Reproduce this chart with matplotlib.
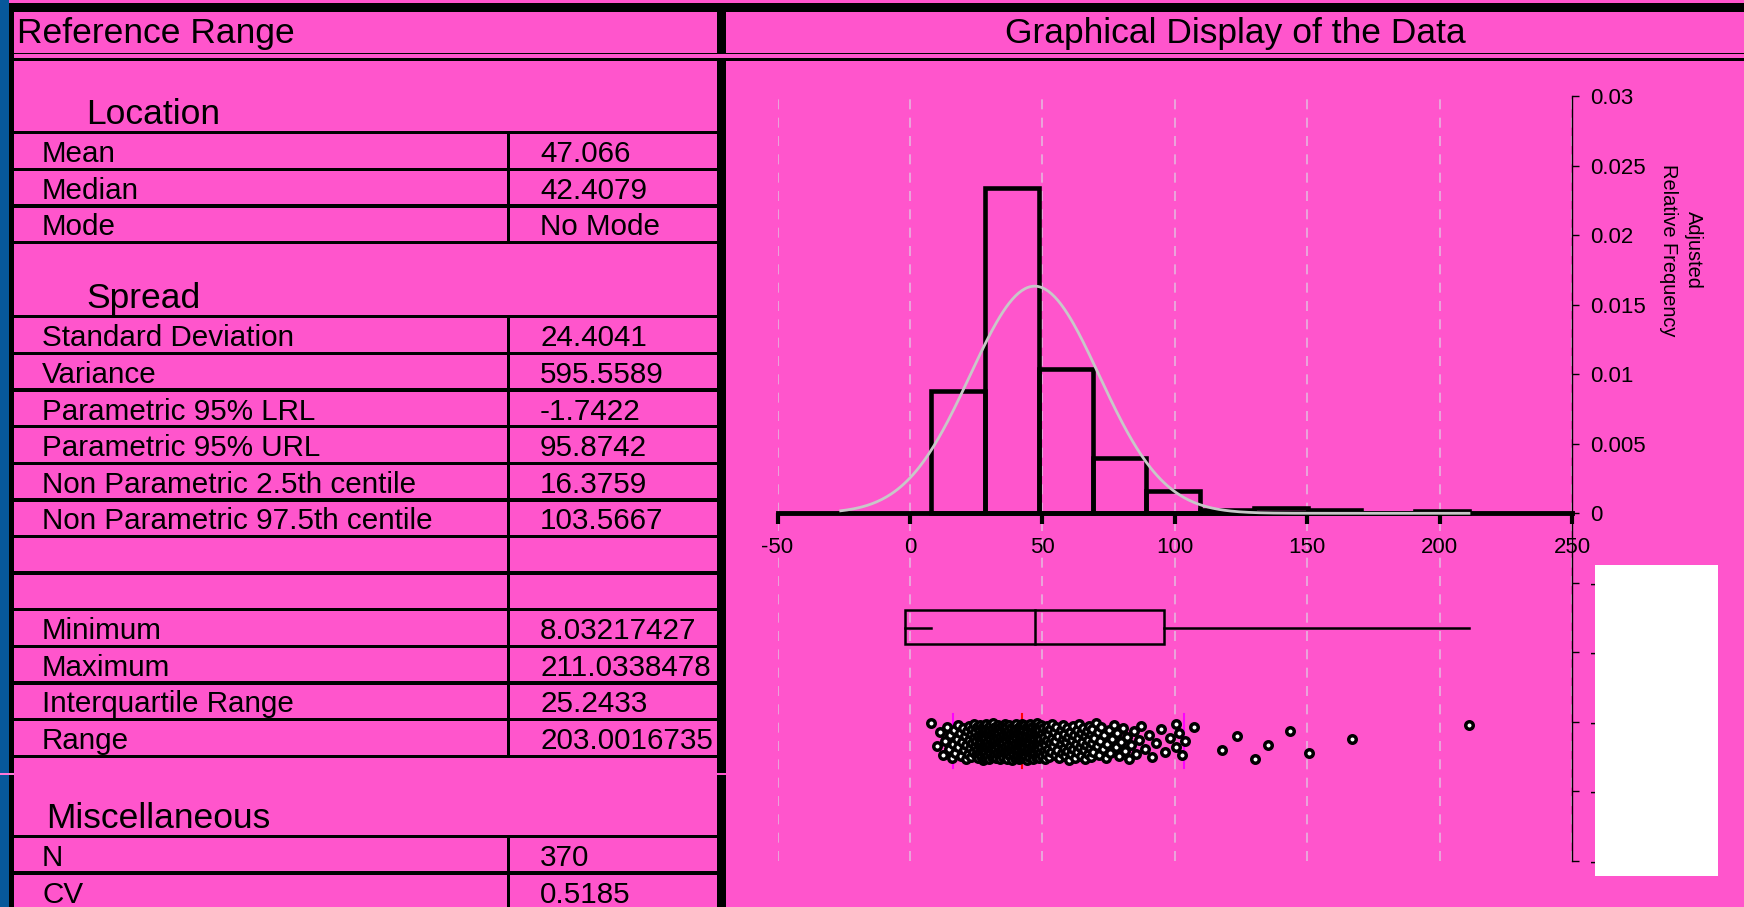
import numpy as np
import matplotlib
matplotlib.use('Agg')
import matplotlib.pyplot as plt
from matplotlib.patches import Rectangle

plt.rcParams['font.family'] = ['Liberation Sans', 'DejaVu Sans']
plt.rcParams['axes.unicode_minus'] = False

PINK = '#ff55cc'
BLUE = '#07589b'
W, H = 1744, 907

# ---- table contents ----
location_labels = ['Mean', 'Median', 'Mode']
location_values = ['47.066', '42.4079', 'No Mode']
spread_labels = ['Standard Deviation', 'Variance', 'Parametric 95% LRL',
                 'Parametric 95% URL', 'Non Parametric 2.5th centile',
                 'Non Parametric 97.5th centile', '', '', 'Minimum', 'Maximum',
                 'Interquartile Range', 'Range']
spread_values = ['24.4041', '595.5589', '-1.7422', '95.8742', '16.3759',
                 '103.5667', '', '', '8.03217427', '211.0338478', '25.2433',
                 '203.0016735']
misc_labels = ['N', 'CV']
misc_values = ['370', '0.5185']

# ---- summary numbers used by the graphics ----
mean, sd = 47.066, 24.4041
median = 42.4079
lrl, url = -1.7422, 95.8742
np_lo, np_hi = 16.3759, 103.5667
vmin, vmax = 8.03217427, 211.0338478

bin_edges = [8.032, 28.332, 48.632, 68.932, 89.232, 109.533, 129.833,
             150.133, 170.433, 190.734, 211.034]

values = [
    vmin, 10.2, 11.5, 12.4, 13.1, 13.9, 14.6, 15.2, 15.8, 16.3,
    16.7, 17.1, 17.6, 18.0, 18.3, 18.8, 19.2, 19.5, 19.9, 20.3,
    20.6, 21.0, 21.3, 21.5, 21.8, 22.2, 22.4, 22.7, 22.9, 23.2,
    23.4, 23.5, 23.8, 24.1, 24.3, 24.4, 24.7, 24.9, 25.0, 25.3,
    25.4, 25.6, 25.7, 25.9, 26.1, 26.2, 26.3, 26.5, 26.7, 26.8,
    26.9, 27.0, 27.2, 27.3, 27.3, 27.5, 27.6, 27.7, 27.8, 27.9,
    28.0, 28.0, 28.1, 28.2, 28.2, 28.3,
    28.4, 28.5, 28.7, 28.8, 28.9, 29.1, 29.2, 29.3, 29.5, 29.6,
    29.7, 29.9, 30.0, 30.1, 30.3, 30.4, 30.5, 30.6, 30.8, 30.9,
    31.0, 31.2, 31.3, 31.4, 31.6, 31.7, 31.8, 31.9, 32.1, 32.2,
    32.3, 32.5, 32.6, 32.7, 32.8, 33.0, 33.1, 33.2, 33.4, 33.5,
    33.6, 33.7, 33.9, 34.0, 34.1, 34.3, 34.4, 34.5, 34.6, 34.8,
    34.9, 35.0, 35.2, 35.3, 35.4, 35.5, 35.7, 35.8, 35.9, 36.1,
    36.2, 36.3, 36.4, 36.6, 36.7, 36.8, 37.0, 37.1, 37.2, 37.3,
    37.5, 37.6, 37.7, 37.9, 38.0, 38.1, 38.2, 38.4, 38.5, 38.6,
    38.8, 38.9, 39.0, 39.1, 39.3, 39.4, 39.5, 39.7, 39.8, 39.9,
    40.0, 40.2, 40.3, 40.4, 40.6, 40.7, 40.8, 40.9, 41.1, 41.2,
    41.3, 41.4, 41.5, 41.6, 41.7, 41.8, 41.9, 42.0, 42.0, 42.1,
    42.1, 42.2, 42.2, 42.3, 42.3, 42.3, 42.4, 42.4, 42.4,
    42.4, 42.5, 42.6, 42.7, 42.9, 43.0, 43.1, 43.2, 43.3, 43.4,
    43.6, 43.7, 43.8, 43.9, 44.0, 44.1, 44.3, 44.4, 44.5, 44.6,
    44.7, 44.8, 45.0, 45.1, 45.2, 45.3, 45.4, 45.5, 45.7, 45.8,
    45.9, 46.0, 46.1, 46.2, 46.4, 46.5, 46.6, 46.7, 46.8, 46.9,
    47.1, 47.2, 47.3, 47.4, 47.5, 47.6, 47.8, 47.9, 48.0, 48.1,
    48.2, 48.3, 48.4, 48.5, 48.5, 48.6, 48.6,
    48.7, 48.9, 49.1, 49.2, 49.4, 49.6, 49.8, 50.0, 50.1, 50.3,
    50.5, 50.7, 50.9, 51.1, 51.3, 51.4, 51.6, 51.8, 52.0, 52.2,
    52.4, 52.7, 52.9, 53.2, 53.5, 53.7, 54.0, 54.3, 54.6, 54.9,
    55.2, 55.6, 56.0, 56.4, 56.9, 57.1, 57.3, 57.6, 57.8, 58.1,
    58.3, 58.6, 58.9, 59.1, 59.4, 59.7, 60.0, 60.3, 60.5, 60.8,
    61.1, 61.4, 61.7, 62.0, 62.3, 62.6, 62.9, 63.2, 63.5, 63.8,
    64.1, 64.4, 64.7, 65.0, 65.3, 65.6, 65.9, 66.2, 66.5, 66.8,
    67.1, 67.4, 67.7, 68.0, 68.2, 68.4, 68.6, 68.8,
    69.2, 69.6, 70.1, 70.5, 71.0, 71.4, 71.9, 72.3, 72.8, 73.4,
    73.9, 74.5, 75.0, 75.6, 76.3, 76.9, 77.6, 78.2, 78.9, 79.6,
    80.4, 81.1, 81.9, 82.8, 83.6, 84.5, 85.4, 86.3, 87.4, 88.6,
    90.1, 91.5, 93.0, 94.6, 96.2, 98.1, 100.6, 100.6, 101.6, 102.6,
    103.9, 107.1,
    117.8, 123.6, 130.1, 135.2, 143.6, 150.8, 166.7, vmax,
]

fig = plt.figure(figsize=(W / 100, H / 100), dpi=100, facecolor=PINK)

# ---- background / table drawn in pixel coordinates ----
bg = fig.add_axes([0, 0, 1, 1])
bg.set_xlim(0, W)
bg.set_ylim(H, 0)
bg.axis('off')
bg.set_zorder(0)


def block(x0, y0, x1, y1, color='black'):
    bg.add_patch(Rectangle((x0, y0), x1 - x0, y1 - y0, facecolor=color,
                           edgecolor='none', lw=0))


block(0, 0, 9, H, BLUE)
block(9, 3.3, 14, H)
block(9, 3.3, W, 11.7)
block(14, 52.7, W, 54.3)
block(14, 57.7, W, 61)
block(717, 11.7, 726, 52.7)
block(717, 61, 726, 773.3)
block(717, 775, 726, H)
block(0, 773.3, 14, 775, '#ff77d8')

bg.text(17, 42.7, 'Reference Range', fontsize=25.5, va='baseline')
bg.text(1235.5, 42.7, 'Graphical Display of the Data', fontsize=25.5,
        ha='center', va='baseline')

sections = [('Location', 86, 71.7, location_labels, location_values),
            ('Spread', 86, 74.2, spread_labels, spread_values),
            ('Miscellaneous', 46, 80.3, misc_labels, misc_values)]
row_h = 36.62
y = 61
for name, tx, head_h, labels, vals in sections:
    y += head_h
    bg.text(tx, y - 9, name, fontsize=25.5, va='baseline')
    block(14, y - 1.65, 717, y + 1.65)
    top = y
    for lab, val in zip(labels, vals):
        bg.text(42, y + 29.5, lab, fontsize=21.3, va='baseline')
        bg.text(540, y + 29.5, val, fontsize=21.3, va='baseline')
        y += row_h
        block(14, y - 1.65, 717, y + 1.65)
    block(507, top, 510, y + 1.65)

# ---- graphical display ----
ax = fig.add_axes([777.5 / W, 1 - 860.65 / H, (1572.2 - 777.5) / W,
                   (860.65 - 96.5) / H])
ax.set_facecolor('none')
ax.set_zorder(1)
ax.set_xlim(-50, 250)
ax.set_ylim(-0.025, 0.03)

counts, edges, bars = ax.hist(values, bins=bin_edges, density=True,
                              fill=False, edgecolor='black', lw=3.3, zorder=3)
for b in bars:
    b.set_joinstyle('miter')

xs = np.linspace(mean - 3 * sd, vmax, 400)
ys = np.exp(-0.5 * ((xs - mean) / sd) ** 2) / (sd * np.sqrt(2 * np.pi))
ax.plot(xs, ys, color='#c8c8c8', lw=2, zorder=4)

# box: parametric reference range, line at the mean, whiskers to min / max
box_lo, box_hi, whisk = -0.0094, -0.00696, -0.00823
ax.add_patch(Rectangle((lrl, box_lo), url - lrl, box_hi - box_lo, fill=False,
                       edgecolor='black', lw=1.8, zorder=3))
ax.plot([mean, mean], [box_lo, box_hi], color='black', lw=1.8, zorder=3)
ax.plot([lrl, vmin], [whisk, whisk], color='black', lw=1.8, zorder=3)
ax.plot([url, vmax], [whisk, whisk], color='black', lw=1.8, zorder=3)

# dot plot with non-parametric limits
line_lo, line_hi = -0.01835, -0.01445
ax.plot([np_lo, np_lo], [line_lo, line_hi], color='#ff00ff', lw=1.5, zorder=3)
ax.plot([np_hi, np_hi], [line_lo, line_hi], color='#ff00ff', lw=1.5, zorder=3)
ax.plot([median, median], [line_lo, line_hi], color='red', lw=1.5, zorder=3)
jit = (np.arange(len(values)) * 0.6180339887) % 1
dot_y = -0.01511 - jit * 0.00264
ax.plot(values, dot_y, 'o', ms=5.4, mfc='white', mec='black', mew=2.5,
        zorder=4)

ax.set_xticks(np.arange(-50, 251, 50))
yt = [-0.025, -0.02, -0.015, -0.01, -0.005, 0, 0.005, 0.01, 0.015, 0.02,
      0.025, 0.03]
ax.set_yticks(yt)
ax.set_yticklabels(['%g' % v for v in yt])
ax.yaxis.tick_right()
for s in ['left', 'top']:
    ax.spines[s].set_visible(False)
ax.spines['right'].set_linewidth(1)
ax.spines['bottom'].set_position(('data', 0))
ax.spines['bottom'].set_linewidth(3.5)
ax.tick_params(axis='y', direction='out', length=5, width=1, pad=8,
               labelsize=16)
ax.tick_params(axis='x', direction='out', length=8, width=3, pad=9,
               labelsize=16)
ax.grid(axis='x', color='#e6b3dd', linestyle=(0, (6, 5)), lw=1.2)
ax.set_axisbelow(True)

fig.text(1681 / W, 1 - 250 / H, 'Adjusted\nRelative Frequency', rotation=270,
         ha='center', va='center', fontsize=14.4, linespacing=1.45,
         multialignment='center')

fig.add_artist(Rectangle((1595 / W, 1 - 875.7 / H), (1718 - 1595) / W,
                         (875.7 - 565) / H, transform=fig.transFigure,
                         facecolor='white', edgecolor='none', zorder=10))

fig.savefig('out.png', dpi=100, facecolor=PINK)
